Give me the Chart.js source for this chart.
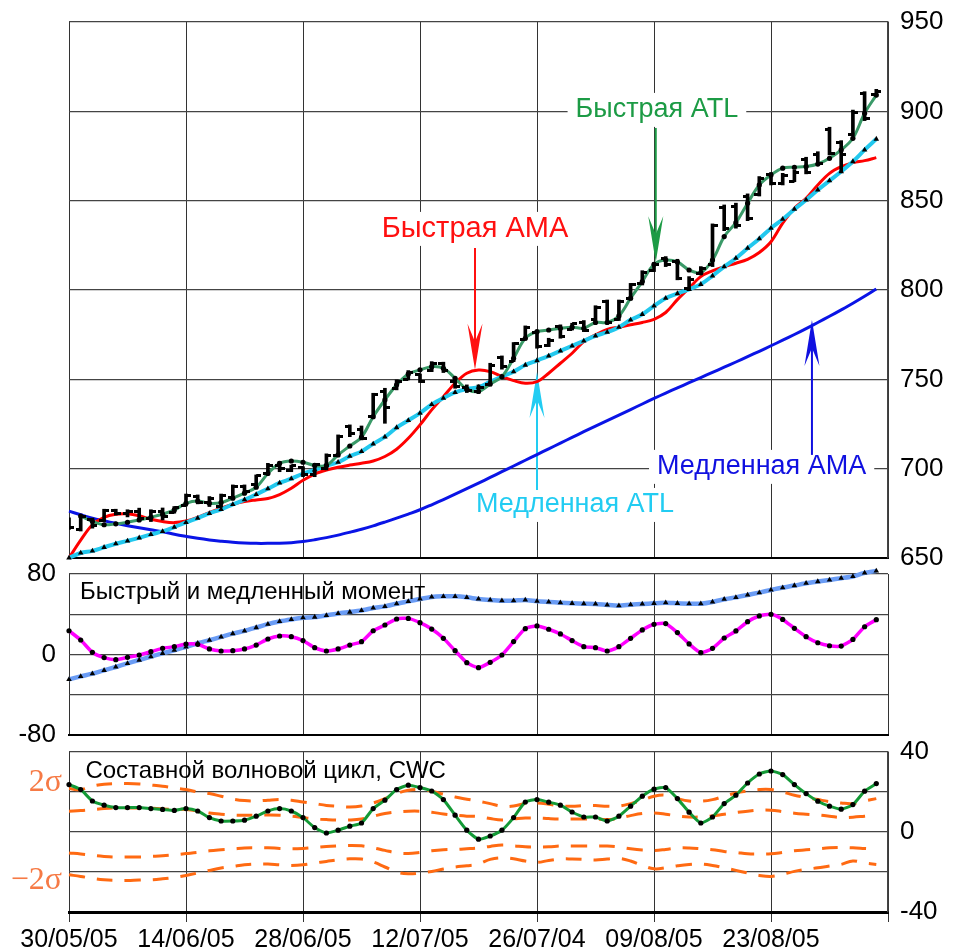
<!DOCTYPE html>
<html>
<head>
<meta charset="utf-8">
<script src="https://cdn.jsdelivr.net/npm/chart.js@4"></script>
<style>
  body { margin: 0; background: #fff; width: 956px; height: 950px; position: relative; overflow: hidden; }
  .panel { position: absolute; left: 0; width: 956px; }
</style>
</head>
<body>
<div class="panel" style="top:0;height:590px"><canvas id="priceChart"></canvas></div>
<div class="panel" style="top:560px;height:190px"><canvas id="momChart"></canvas></div>
<div class="panel" style="top:736px;height:214px"><canvas id="cwcChart"></canvas></div>
<script>
// ---- data (one value per trading day, 70 days) ----
const dateLabels = ['30/05/05', '14/06/05', '28/06/05', '12/07/05', '26/07/04', '09/08/05', '23/08/05', ''];
const xGridValues = [0, 10, 20, 30, 40, 50, 60, 70];

const priceHigh = [
  672.5, 673.4, 672.3, 677.3, 677.3, 677, 677.9, 677, 678, 678.8,
  685.8, 685.3, 684.4, 685.8, 690.9, 690.9, 696.5, 703, 704, 702,
  701.1, 703, 708.3, 718.9, 724.5, 723.9, 742.2, 745, 749.7, 754.9,
  753, 759.9, 759.6, 749.7, 746.9, 746.9, 759, 763.1, 770.6, 779.9,
  776.7, 773, 780.5, 781.4, 782.9, 791.2, 794.4, 794.4, 803.7, 810.8,
  815.3, 818.7, 817.2, 807.5, 813.1, 837, 847.6, 848.6, 853.8, 863.5,
  865.7, 865.3, 867.2, 874.3, 877.4, 891.1, 883.6, 900.7, 911, 912.3
];
const priceLow = [
  666, 665.1, 666.7, 670.4, 674, 673, 671.3, 670.4, 671.3, 675.1,
  679.1, 680.3, 678.8, 678.4, 683.4, 686.6, 690.4, 697, 698.3, 698.3,
  695.5, 695.5, 699.3, 706.8, 717.9, 716.1, 728.2, 725.4, 744.1, 749.7,
  748.2, 754.3, 753.8, 745, 742.6, 742.2, 746.3, 755.7, 759.9, 772,
  767.4, 768.3, 773, 777.6, 776.7, 782.9, 781, 782.9, 794.4, 802.8,
  810.3, 813.1, 805.7, 800, 808.5, 813.1, 833.2, 834.6, 838.8, 852.6,
  858.8, 858.8, 860.6, 865, 870, 875.6, 865.7, 886.2, 894.8, 908.6
];
const priceOpen = [
  671, 666, 671.5, 671, 676.5, 675, 676, 672, 676, 675.5,
  679.5, 684.5, 681, 679, 684, 690, 691, 697.5, 702, 699,
  700.5, 697, 700, 707.5, 723.5, 722, 729, 743, 745, 750,
  752.5, 755, 759, 749, 745.5, 743, 747, 762.5, 760, 772.5,
  776, 769, 779.5, 778, 782, 783.5, 793.5, 783.5, 795, 803.5,
  811, 817.5, 816, 801, 809, 814, 846, 847, 852.5, 853.5,
  864.5, 859.5, 861, 873, 876, 890, 882.5, 887, 910, 909.5
];
const priceClose = [
  667, 673, 668, 676.5, 675, 676, 672, 676, 673, 678,
  685, 681, 683.5, 685, 690, 687.5, 696, 702, 700, 701.5,
  697, 702.5, 707.5, 718, 719.5, 717, 741.5, 734, 749, 754,
  749, 759, 755, 746, 743.5, 745.5, 758, 757, 770, 779,
  768.5, 772, 774, 781, 777.5, 790, 782, 793.5, 803, 810,
  814.5, 814, 806.5, 806, 812, 836, 834.5, 836, 840, 862.5,
  859.5, 864, 866, 866, 871, 876.5, 876, 899.5, 896, 911
];
const fastAtl = [
  null, 673.5, 670.5, 668.6, 669.1, 670, 671.3, 672.8, 674.5, 676.9,
  680.6, 681.9, 680.6, 681, 683.5, 686.3, 689.6, 697.3, 703, 704.3,
  703.6, 701.8, 701.8, 707.7, 712.7, 717.6, 729.1, 738.5, 746.9, 753,
  755.3, 757.1, 756.2, 750.6, 744.5, 743.2, 747.4, 751.5, 761.8, 773,
  776.7, 777.6, 778.6, 779.2, 778.6, 781.8, 781.8, 785.5, 795.4, 804.7,
  814.4, 816.8, 815.7, 811.2, 809.7, 816.8, 829.9, 837.7, 848.6, 858.8,
  864.4, 868.2, 868.7, 869.1, 870.5, 873.7, 878.4, 884.9, 898.9, 909.1
];
const slowAtl = [
  650, 652.8, 654, 656, 658, 659.6, 661.3, 663.2, 664.9, 667.3,
  669.9, 672.3, 675, 677.2, 680, 682.6, 685.6, 688.8, 692, 694.4,
  697.2, 699.3, 701.7, 703.6, 707, 709.6, 713.9, 717.8, 723, 727,
  731.1, 736, 739.5, 742.7, 744.6, 745.6, 748.7, 751.5, 754.3, 758,
  760.5, 763.1, 765.9, 768.7, 771.5, 774.3, 776.4, 779.2, 783.3, 786.4,
  791.1, 795.4, 798, 800.4, 803.2, 807.9, 813.1, 817.8, 823.4, 828.7,
  834.6, 839.6, 845.2, 850.4, 856, 861.2, 866.3, 871.9, 878.4, 884.5
];
const fastAma = [
  650, 660, 668.6, 672.8, 674.5, 674.7, 673.6, 671.7, 670.4, 669.8,
  670.7, 672.8, 675.4, 677.9, 680.1, 681.6, 682.5, 683.3, 685.5, 689,
  693.5, 697, 699.2, 700.8, 702, 703, 704.3, 706.8, 710.9, 717,
  724.5, 732.9, 740.3, 747.8, 753.4, 755.2, 754.3, 751.5, 749.3, 747.8,
  748.7, 753.4, 759, 764.6, 771.1, 774.9, 778, 779.2, 780.5, 781.8,
  783.6, 787.4, 794.6, 801, 807.5, 810.7, 813.1, 815, 817.2, 821,
  827, 837.4, 845.8, 851.3, 858.8, 865.3, 869, 871.3, 872.4, 874.1
];
const slowAma = [
  676.2, 674.2, 672.3, 670.8, 669.4, 668.1, 666.9, 665.8, 664.7, 663.3,
  662.1, 661, 660.1, 659.4, 658.8, 658.4, 658.2, 658.2, 658.3, 658.6,
  659.2, 660.2, 661.4, 662.8, 664.4, 666.1, 668, 670.1, 672.3, 674.6,
  677, 679.8, 682.7, 685.7, 688.8, 691.9, 695.1, 698.3, 701.5, 704.7,
  707.9, 711.1, 714.3, 717.5, 720.7, 723.8, 726.9, 730, 733.1, 736.2,
  739.3, 742.3, 745.2, 748.1, 751, 753.9, 756.8, 759.7, 762.7, 765.7,
  768.8, 771.9, 775.1, 778.4, 781.8, 785.3, 788.9, 792.6, 796.5, 800.6
];

const fastMomentum = [
  23.6, 14.4, 2.2, -3.1, -5.1, -2.8, -0.5, 2.8, 6.1, 7.8,
  10.4, 10.1, 5.5, 3.5, 3.8, 5.5, 9.4, 15.4, 18.4, 17.7,
  13.8, 6.8, 3.5, 5.5, 9.4, 12.7, 23.6, 29.3, 35.3, 35.9,
  31.6, 25.3, 16.1, 3.8, -8.1, -13.1, -7.8, -0.5, 12.8, 25.7,
  28.4, 25.1, 20.4, 13.8, 7.8, 6.8, 3.5, 7.8, 16.1, 24.4,
  30, 30.7, 21.8, 10.5, 1.8, 6.1, 16.4, 23.4, 32.6, 38.3,
  39.9, 34.9, 26, 17.7, 11.7, 8.7, 8.4, 15, 27.6, 34.6
];
const slowMomentum = [
  -24.7, -21.7, -19, -15.7, -12.4, -8.8, -5.5, -2.1, 1.2, 4.2,
  7.5, 11.2, 14.2, 17.5, 20.8, 23.5, 26.8, 30.2, 32.8, 34.8,
  36.5, 37.2, 38.8, 40.8, 42.2, 43.8, 46.2, 47.8, 50.5, 52.8,
  55.2, 57.2, 57.8, 57.8, 56.8, 55.2, 54.2, 53.5, 53.5, 54.2,
  52.9, 52.2, 51.5, 50.9, 50.5, 50.2, 49.2, 48.5, 49.5, 50.2,
  50.9, 51.5, 50.9, 50.5, 50.5, 52.2, 54.9, 56.8, 59.2, 61.5,
  64.1, 66.5, 68.5, 70.8, 72.5, 74.1, 75.8, 77.5, 81.1, 83.1
];

const cwc = [
  23.7, 21.2, 15.5, 13.4, 12.2, 12.2, 12.2, 11.7, 11.3, 10.8,
  11.7, 10.5, 7.2, 5.5, 5.5, 5.9, 7.9, 10.5, 11.7, 10.5,
  7.2, 2.2, -0.5, 0.9, 2.9, 4.5, 11.7, 15.9, 21.2, 23.4,
  22.2, 20.5, 16.2, 8.4, 0.9, -3.6, -2, 0.9, 7.2, 15,
  16.2, 14.9, 13.4, 10, 7.5, 7.5, 5.5, 7.9, 12.9, 17.9,
  21.4, 22.2, 16.7, 9.9, 4.5, 7.5, 14.2, 18.4, 24.5, 29,
  30.5, 28.7, 23.7, 19.2, 15.4, 12.9, 11.4, 13.7, 20.4, 24.2
];
const bandOuterUp = [
  21.7, 21.2, 22.9, 23.9, 24.2, 24.2, 24, 23.5, 22.9, 22,
  21.2, 20, 19.2, 17.9, 16.5, 15.7, 15.5, 15.9, 16.2, 15.9,
  15, 14.2, 13.3, 12.9, 12.5, 13, 14.5, 16.7, 19.2, 20.9,
  21.2, 20.4, 18.9, 17.5, 16.4, 15.4, 14.2, 12.9, 13, 14.2,
  14.5, 13.9, 13, 12.9, 13.2, 13.2, 12.9, 13, 14.2, 15.9,
  17.9, 18.4, 16.7, 15.5, 15.4, 16.2, 17.9, 19.5, 20.5, 21.2,
  21.2, 20, 18.4, 17.2, 16.2, 15.2, 14.5, 14.2, 15.5, 16.7
];
const bandInnerUp = [
  10.4, 10.7, 11.2, 11.7, 12, 12, 12, 11.9, 11.5, 11.4,
  11.2, 10.5, 9.5, 8.9, 8.5, 8.4, 8.4, 8.5, 8.4, 7.9,
  7.2, 6.5, 6.2, 6, 6, 6.5, 7.9, 9.2, 10, 10.4,
  10.4, 9.9, 9, 8.4, 7.9, 7.7, 6.7, 6, 6.5, 7,
  7, 6.7, 6.5, 6.5, 6.5, 6.5, 6.2, 6.9, 8.2, 9.2,
  9.5, 8.9, 8, 7.5, 7.5, 8, 8.9, 9.7, 10.4, 10.9,
  10.9, 10.2, 9.4, 8.9, 8.5, 7.9, 7.2, 7.4, 7.9, 8.4
];
const bandInnerDown = [
  -10.5, -11, -11.7, -12.2, -12.5, -12.5, -12.5, -12.2, -11.9, -11.4,
  -10.8, -10.2, -9.4, -8.9, -8.5, -8, -7.9, -7.9, -8.2, -8.4,
  -8.2, -7.7, -7.2, -6.9, -6.7, -6.9, -7.9, -9.2, -10.4, -10.7,
  -10.2, -9.4, -8.9, -8.7, -8.4, -8, -7.2, -6.5, -6.9, -7.4,
  -7.5, -7.4, -7, -7, -7, -7, -7, -7.5, -8.4, -9,
  -9.2, -8.7, -8, -8, -8.4, -8.9, -9.7, -10.2, -10.9, -11,
  -10.9, -10.2, -9.4, -8.9, -8.4, -7.9, -7.7, -7.9, -8.2, -8.5
];
const bandOuterDown = [
  -21.4, -22.2, -23.2, -23.9, -24.2, -24.2, -24, -23.9, -23.4, -22.7,
  -21.7, -20.5, -19.2, -18, -17.2, -16.4, -16, -16, -16.4, -16.7,
  -16.4, -15.5, -14.7, -13.9, -13.4, -13.5, -15, -17.5, -20, -20.9,
  -20.5, -19.7, -18.5, -17.5, -16.9, -16, -13.7, -12.9, -13.4, -14.5,
  -15.2, -14.2, -13.5, -13.5, -13.7, -14, -13.5, -13.2, -14.5, -16.7,
  -18.4, -17.9, -16.9, -16.2, -16, -16.7, -17.9, -19.2, -20.5, -21.7,
  -22.2, -21.2, -19.7, -18.7, -17.9, -17, -16.2, -14.5, -15.5, -16.2
];
const sigmaTicks = [24.5, -24.5];
const sigmaLabels = ['2σ', '\u22122σ'];

// ---- helpers ----
Chart.defaults.font.family = '"Liberation Sans", Arial, sans-serif';
Chart.defaults.color = '#000';

const pts = arr => arr.map((v, i) => ({ x: i, y: v }));

function tickImage(side) {
  const c = document.createElement('canvas');
  c.width = 10; c.height = 3;
  const g = c.getContext('2d');
  g.fillStyle = '#000';
  g.fillRect(side === 'left' ? 0 : 5, 0, 5, 3);
  return c;
}
const openTick = tickImage('left');
const closeTick = tickImage('right');

function xAxis(height, withLabels, borderWidth) {
  return {
    type: 'linear', min: 0, max: 70, offset: false,
    afterBuildTicks: s => { s.ticks = xGridValues.map(v => ({ value: v })); },
    afterFit: s => { s.height = height; s.paddingLeft = 0; s.paddingRight = 0; },
    grid: { color: '#333', lineWidth: 1, drawTicks: withLabels, tickLength: 10, offset: false },
    border: { color: '#000', width: borderWidth },
    ticks: {
      display: withLabels, autoSkip: false, maxRotation: 0, padding: 3,
      font: { size: 25 },
      callback: v => dateLabels[xGridValues.indexOf(v)]
    }
  };
}

function lineSet(data, color, width, pointStyle, order, extra) {
  return Object.assign({
    type: 'line', data: pts(data), borderColor: color, borderWidth: width,
    pointStyle: pointStyle || 'circle', pointRadius: pointStyle ? 2.6 : 0,
    pointBackgroundColor: '#000', pointBorderWidth: 0, tension: 0.35,
    spanGaps: false, order: order, clip: false
  }, extra || {});
}

// text labels with optional arrows, placed in data coordinates
function notesPlugin(items, front) {
  function draw(chart) {
    const ctx = chart.ctx, xs = chart.scales.x, ys = chart.scales.y;
    items.forEach(n => {
      const px = xs.getPixelForValue(n.at[0]), py = ys.getPixelForValue(n.at[1]);
      ctx.save();
      ctx.font = n.font;
      ctx.textBaseline = 'middle';
      ctx.textAlign = n.align || 'center';
      const w = ctx.measureText(n.text).width;
      if (n.bg) {
        const left = ctx.textAlign === 'center' ? px - w / 2 : px;
        ctx.fillStyle = '#fff';
        ctx.fillRect(left - 8, py - 17, w + 16, 34);
      }
      ctx.fillStyle = n.color;
      ctx.fillText(n.text, px, py);
      if (n.arrow) {
        const ax = xs.getPixelForValue(n.arrow[0]);
        const y0 = ys.getPixelForValue(n.arrow[1]);
        const y1 = ys.getPixelForValue(n.arrow[2]);
        const d = y0 > y1 ? 1 : -1;
        ctx.strokeStyle = n.color;
        ctx.lineWidth = 2;
        ctx.beginPath(); ctx.moveTo(ax, y0); ctx.lineTo(ax, y1 + d * 25); ctx.stroke();
        ctx.beginPath();
        ctx.moveTo(ax, y1);
        ctx.lineTo(ax - 7.5, y1 + d * 46);
        ctx.lineTo(ax, y1 + d * 28);
        ctx.lineTo(ax + 7.5, y1 + d * 46);
        ctx.closePath();
        ctx.fill();
      }
      ctx.restore();
    });
  }
  return front ? { id: 'notesFront', afterDatasetsDraw: draw } : { id: 'notesBack', beforeDatasetsDraw: draw };
}

const baseOptions = {
  responsive: true, maintainAspectRatio: false, animation: false,
  plugins: { legend: { display: false }, tooltip: { enabled: false } }
};

// ---- price panel ----
const priceNotes = [
  { text: 'Быстрая ATL', at: [50.25, 900.8], color: '#1c9b45', font: '27px "Liberation Sans", Arial', bg: true, arrow: [50.15, 890.7, 815.5] },
  { text: 'Быстрая АМА', at: [34.7, 834.2], color: '#ff1010', font: '29px "Liberation Sans", Arial', bg: true, arrow: [34.7, 823.5, 755.3] },
  { text: 'Медленная ATL', at: [43.25, 679.7], color: '#22ccf2', font: '27px "Liberation Sans", Arial', bg: true, arrow: [40, 688.1, 754.1] },
  { text: 'Медленная АМА', at: [59.2, 701], color: '#1010e0', font: '27px "Liberation Sans", Arial', bg: true, arrow: [63.5, 707.7, 783.2] }
];

new Chart(document.getElementById('priceChart'), {
  type: 'line',
  data: {
    datasets: [
      { type: 'bar', data: priceHigh.map((h, i) => ({ x: i, y: [priceLow[i], h] })),
        backgroundColor: '#000', barThickness: 3, order: 0 },
      { type: 'line', data: pts(priceOpen), showLine: false, pointStyle: openTick, pointRadius: 3, order: 0 },
      { type: 'line', data: pts(priceClose), showLine: false, pointStyle: closeTick, pointRadius: 3, order: 0 },
      lineSet(fastAtl, '#3a9a68', 3, 'circle', 1),
      lineSet(slowAtl, '#22c8ee', 4, 'triangle', 2, { pointRadius: 3.2 }),
      lineSet(fastAma, '#ff0000', 3, null, 3),
      lineSet(slowAma, '#0a14e6', 3, null, 4)
    ]
  },
  options: Object.assign({}, baseOptions, {
    layout: { padding: { left: 69, right: 0, top: 22, bottom: 0 }, autoPadding: false },
    scales: {
      x: xAxis(32, false, 2),
      y: {
        position: 'right', min: 650, max: 950,
        afterFit: s => { s.width = 68; s.paddingTop = 0; s.paddingBottom = 0; },
        grid: { color: '#444', lineWidth: 1.2, drawTicks: false },
        border: { color: '#444', width: 1.5 },
        ticks: { stepSize: 50, padding: 12, font: { size: 26 } }
      }
    }
  }),
  plugins: [notesPlugin(priceNotes, false)]
});

// ---- momentum panel ----
const momNotes = [
  { text: 'Быстрый и медленный момент', at: [0.95, 62.1], color: '#000', font: '24px "Liberation Sans", Arial', align: 'left' }
];

new Chart(document.getElementById('momChart'), {
  type: 'line',
  data: {
    datasets: [
      lineSet(fastMomentum, '#ff00ff', 3.5, 'circle', 0, { tension: 0.2 }),
      lineSet(slowMomentum, '#6a9cf5', 4.5, 'triangle', 1, { tension: 0.2, pointRadius: 3.2 })
    ]
  },
  options: Object.assign({}, baseOptions, {
    layout: { padding: { left: 0, right: 68, top: 14, bottom: 0 }, autoPadding: false },
    scales: {
      x: xAxis(15, false, 2),
      y: {
        position: 'left', min: -80, max: 80,
        afterFit: s => { s.width = 69; s.paddingTop = 0; s.paddingBottom = 0; },
        grid: { color: '#444', lineWidth: 1.2, drawTicks: false },
        border: { display: false },
        ticks: { stepSize: 40, padding: 13, font: { size: 26 }, callback: v => (v % 80 === 0 ? v : '') }
      }
    }
  }),
  plugins: [notesPlugin(momNotes, true)]
});

// ---- composite wave cycle panel ----
const cwcNotes = [
  { text: 'Составной волновой цикл, CWC', at: [1.4, 30.5], color: '#000', font: '24px "Liberation Sans", Arial', align: 'left' }
];
const bandStyle = { borderDash: [16, 12], tension: 0.4 };

new Chart(document.getElementById('cwcChart'), {
  type: 'line',
  data: {
    datasets: [
      lineSet(cwc, '#139a36', 3, 'circle', 0, { tension: 0.2 }),
      lineSet(bandOuterUp, '#ff6a12', 3, null, 1, bandStyle),
      lineSet(bandInnerUp, '#ff6a12', 3, null, 1, bandStyle),
      lineSet(bandInnerDown, '#ff6a12', 3, null, 1, bandStyle),
      lineSet(bandOuterDown, '#ff6a12', 3, null, 1, bandStyle)
    ]
  },
  options: Object.assign({}, baseOptions, {
    layout: { padding: { left: 0, right: 0, top: 16, bottom: 0 }, autoPadding: false },
    scales: {
      x: xAxis(38, true, 3),
      y: {
        position: 'right', min: -40, max: 40,
        afterFit: s => { s.width = 68; s.paddingTop = 0; s.paddingBottom = 0; },
        grid: { color: '#444', lineWidth: 1.2, drawTicks: false },
        border: { color: '#444', width: 1.5 },
        ticks: { stepSize: 20, padding: 12, font: { size: 26 }, callback: v => (v % 40 === 0 ? v : '') }
      },
      ySigma: {
        position: 'left', min: -40, max: 40,
        afterBuildTicks: s => { s.ticks = sigmaTicks.map(v => ({ value: v })); },
        afterFit: s => { s.width = 69; s.paddingTop = 0; s.paddingBottom = 0; },
        grid: { display: false, drawTicks: false },
        border: { display: false },
        ticks: {
          padding: 7, color: '#f67a45',
          font: { size: 32, family: '"Liberation Serif", "Times New Roman", serif' },
          callback: v => sigmaLabels[sigmaTicks.indexOf(v)]
        }
      }
    }
  }),
  plugins: [notesPlugin(cwcNotes, true)]
});
</script>
</body>
</html>
